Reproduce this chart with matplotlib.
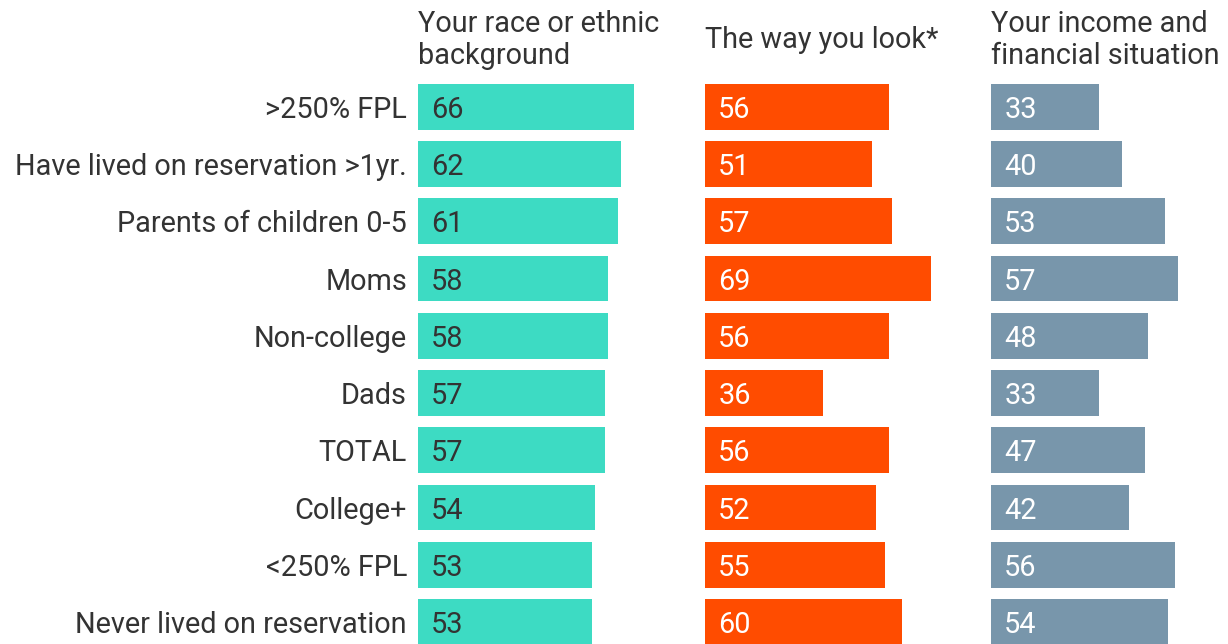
import matplotlib
matplotlib.use("Agg")
import matplotlib.pyplot as plt

categories = [">250% FPL", "Have lived on reservation >1yr.", "Parents of children 0-5",
              "Moms", "Non-college", "Dads", "TOTAL", "College+", "<250% FPL",
              "Never lived on reservation"]
race = [66, 62, 61, 58, 58, 57, 57, 54, 53, 53]
look = [56, 51, 57, 69, 56, 36, 56, 52, 55, 60]
income = [33, 40, 53, 57, 48, 33, 47, 42, 56, 54]
titles = ["Your race or ethnic\nbackground", "The way you look*", "Your income and\nfinancial situation"]
series = [race, look, income]
colors = ["#3DDBC3", "#FF4C00", "#7896AB"]
label_colors = ["#333333", "white", "white"]

plt.rcParams['font.family'] = ['Roboto', 'DejaVu Sans']
W, H = 1228, 644
fig = plt.figure(figsize=(W / 100, H / 100), dpi=100)

px_per_unit = 3.28
lefts = [418, 705, 991]
ax_bottom_px = 644
ax_top_px = 84
row_sp = 57.2
ytop = -0.4
ybot = 9 + (644 - 622) / row_sp

text_color = "#333333"
fs = 20.8
for k, (left, vals) in enumerate(zip(lefts, series)):
    wpx = min(286, W - left)
    ax = fig.add_axes([left / W, 0, wpx / W, (ax_bottom_px - ax_top_px) / H])
    y = list(range(len(categories)))
    ax.barh(y, vals, height=0.8, color=colors[k])
    ax.set_xlim(0, wpx / px_per_unit)
    ax.set_ylim(ybot, ytop)
    for s in ax.spines.values():
        s.set_visible(False)
    ax.set_xticks([])
    if k == 0:
        ax.set_yticks(y)
        ax.set_yticklabels(categories, fontsize=fs, color=text_color)
        ax.tick_params(axis='y', length=0, pad=8)
    else:
        ax.set_yticks([])
    for yi, v in zip(y, vals):
        ax.annotate(str(v), (0, yi), xytext=(9.5, 0), textcoords='offset points',
                    va='center_baseline', ha='left', fontsize=fs, color=label_colors[k])
    fig.text(left / W, 1 - 40 / H, titles[k], ha='left', va='center',
             fontsize=fs, color=text_color, linespacing=1.15)

fig.savefig("out.png", dpi=100)
